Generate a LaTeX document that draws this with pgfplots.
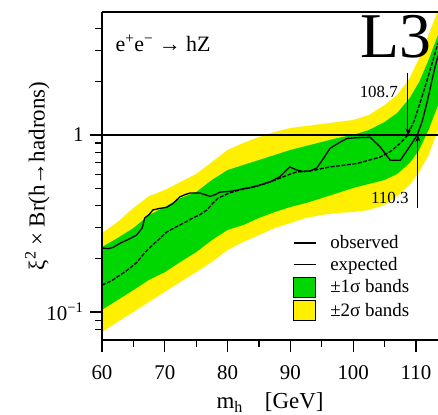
\documentclass[border=0pt]{standalone}
\usepackage{fontspec}
\setmainfont{Liberation Serif}
\usepackage{pgfplots}
\pgfplotsset{compat=1.18}
\usepgfplotslibrary{fillbetween}
\usetikzlibrary{calc,arrows.meta}
\definecolor{bandGreen}{HTML}{00D700}
\definecolor{bandYellow}{HTML}{FFEF00}

% band edges: 2 sigma top, 1 sigma top, 1 sigma bottom, 2 sigma bottom
\pgfplotstableread{
m     yt     gt     gb     yb
60    0.279  0.233  0.103  0.077
62.5  0.323  0.262  0.117  0.088
65    0.387  0.298  0.133  0.100
67.5  0.452  0.353  0.152  0.114
70    0.489  0.392  0.168  0.130
72.5  0.543  0.440  0.192  0.148
75    0.602  0.476  0.218  0.168
77.5  0.704  0.557  0.255  0.192
80    0.823  0.634  0.291  0.224
82.5  0.901  0.677  0.310  0.249
85    0.974  0.722  0.340  0.272
87.5  1.040  0.771  0.367  0.298
90    1.095  0.823  0.392  0.318
92.5  1.124  0.867  0.413  0.340
95    1.154  0.913  0.440  0.353
97.5  1.184  0.962  0.470  0.363
100   1.215  1.000  0.502  0.367
102.5 1.297  1.067  0.529  0.377
105   1.477  1.184  0.557  0.402
107   1.683  1.331  0.602  0.452
109   2.099  1.618  0.695  0.522
110.5 2.723  1.992  0.823  0.618
112   3.673  2.652  1.067  0.771
113.5 5.080  3.673  1.477  1.067
}\bands

\pgfplotsset{
  box legend/.style={legend image code/.code={\fill[##1] (0bp,-10bp) rectangle (22bp,10bp); \path (34bp,0bp);}},
}

\begin{document}
\begin{tikzpicture}
\begin{axis}[
  name=ax,
  scale only axis, width=336bp, height=328bp,
  xmin=60, xmax=113.5,
  ymode=log, ymin=0.0695, ymax=4.95,
  axis lines=left, axis line style={-, line width=1.4bp},
  axis on top,
  xtick={60,70,...,110}, minor x tick num=1,
  ytick={0.1,1}, yticklabels={10\textsuperscript{−1},1},
  minor ytick={0.08,0.09,0.2,0.3,0.4,0.5,0.6,0.7,0.8,0.9,2,3,4},
  tick align=outside, major tick length=12bp, minor tick length=7bp,
  tick style={black, line width=1.2bp},
  tick label style={font=\fontsize{21}{24}\selectfont},
  xticklabel style={yshift=-10bp},
  yticklabel style={xshift=-3bp},
  /pgf/number format/assume math mode=true,
  xlabel={m\textsubscript{h}\hspace{22bp}[GeV]},
  ylabel={ξ\textsuperscript{2} × Br(h→hadrons)},
  every axis x label/.style={at={(axis description cs:0.5,-0.19)}, anchor=center,
    font=\fontsize{23}{26}\selectfont},
  every axis y label/.style={at={(axis description cs:-0.193,0.5)}, rotate=90, anchor=center,
    font=\fontsize{23}{26}\selectfont},
  legend image code/.code={\draw[#1] (0bp,0bp) -- (22bp,0bp); \path (34bp,0bp);},
  legend style={at={(axis description cs:0.568,0.325)}, anchor=north west,
    draw=none, fill=none, inner sep=0pt, row sep=3bp,
    font=\fontsize{19}{22}\selectfont},
  legend cell align=left,
]
  \addlegendimage{black, line width=1.3bp}
  \addlegendentry{observed}
  \addlegendimage{black, line width=1.3bp}
  \addlegendentry{expected}
  \addlegendimage{box legend, fill=bandGreen}
  \addlegendentry{±1σ bands}
  \addlegendimage{box legend, fill=bandYellow}
  \addlegendentry{±2σ bands}

  \addplot[draw=none, name path=yt, forget plot] table[x=m, y=yt] {\bands};
  \addplot[draw=none, name path=gt, forget plot] table[x=m, y=gt] {\bands};
  \addplot[draw=none, name path=gb, forget plot] table[x=m, y=gb] {\bands};
  \addplot[draw=none, name path=yb, forget plot] table[x=m, y=yb] {\bands};
  \addplot[bandYellow, forget plot] fill between[of=yt and yb];
  \addplot[bandGreen, forget plot] fill between[of=gt and gb];

  \draw[line width=1.4bp] (axis cs:60,1) -- (axis cs:113.5,1);
  \draw[line width=1.4bp] (rel axis cs:0,1) -- (rel axis cs:1,1);

  % expected
  \addplot[black, line width=1.3bp, dash pattern=on 4bp off 1.5bp, forget plot] coordinates {
    (60,0.142) (61.5,0.150) (62.9,0.162) (64,0.172) (65.5,0.19) (66.8,0.216)
    (68.1,0.24) (69.2,0.26) (70.3,0.283) (71.3,0.296) (72.4,0.31) (73.5,0.325)
    (74.5,0.34) (75.6,0.355) (76.7,0.377) (77.6,0.41) (78.5,0.44) (80.4,0.472)
    (82,0.49) (83.6,0.502) (85.2,0.52) (86.8,0.543) (88.3,0.57) (89.9,0.60)
    (91,0.618) (93.1,0.626) (94.5,0.64) (96.3,0.66) (98.5,0.675) (100.6,0.69)
    (102.5,0.72) (104.3,0.75) (106,0.81) (107.5,0.90) (108.7,1.0) (109.7,1.2)
    (110.6,1.5) (111.5,1.9) (112.2,2.3) (113.5,3.3)
  };
  % observed
  \addplot[black, line width=1.3bp, forget plot] coordinates {
    (60,0.230) (61,0.228) (61.8,0.232) (62.9,0.245) (64,0.255) (65.5,0.272)
    (66.4,0.298) (66.8,0.34) (67.5,0.355) (68.1,0.377) (69.2,0.385) (70.3,0.39)
    (71.3,0.41) (72.4,0.447) (73.2,0.46) (74,0.47) (75.6,0.47) (76.4,0.46)
    (77.2,0.45) (78,0.46) (78.8,0.476) (80.4,0.48) (81.5,0.488) (82.5,0.497)
    (83.6,0.505) (85,0.52) (86.8,0.545) (88.3,0.58) (89.9,0.66) (91,0.634)
    (92,0.622) (93.1,0.626) (94.2,0.651) (95.3,0.74) (96.3,0.84) (97.9,0.91)
    (99,0.955) (100.5,0.965) (102.7,0.97) (104.3,0.855) (105.9,0.72) (107.5,0.72)
    (109,0.86) (110.2,1.0) (111,1.2) (111.7,1.5) (113,2.4) (113.5,2.8)
  };

  \draw[-{Stealth[length=7bp,width=5bp]}, line width=1bp] (axis cs:108.7,2.24) -- (axis cs:108.7,1.0);
  \draw[-{Stealth[length=7bp,width=5bp]}, line width=1bp] (axis cs:110.3,0.387) -- (axis cs:110.3,1.0);
  \node[anchor=east, font=\fontsize{17}{19}\selectfont, inner sep=1bp] at (axis cs:107.3,1.75) {108.7};
  \node[anchor=east, font=\fontsize{17}{19}\selectfont, inner sep=1bp] at (axis cs:109.0,0.44) {110.3};

  \node[anchor=west, font=\fontsize{22}{24}\selectfont] at (rel axis cs:0.03,0.905)
    {e\textsuperscript{+}e\textsuperscript{−} → hZ};
  \node[font=\fontsize{64}{64}\selectfont] at (rel axis cs:0.875,0.924) {L3};
\end{axis}
\pgfresetboundingbox
\path[use as bounding box] ($(ax.south west)+(-102bp,-75bp)$) rectangle ($(ax.north east)+(0bp,12bp)$);
\end{tikzpicture}
\end{document}
